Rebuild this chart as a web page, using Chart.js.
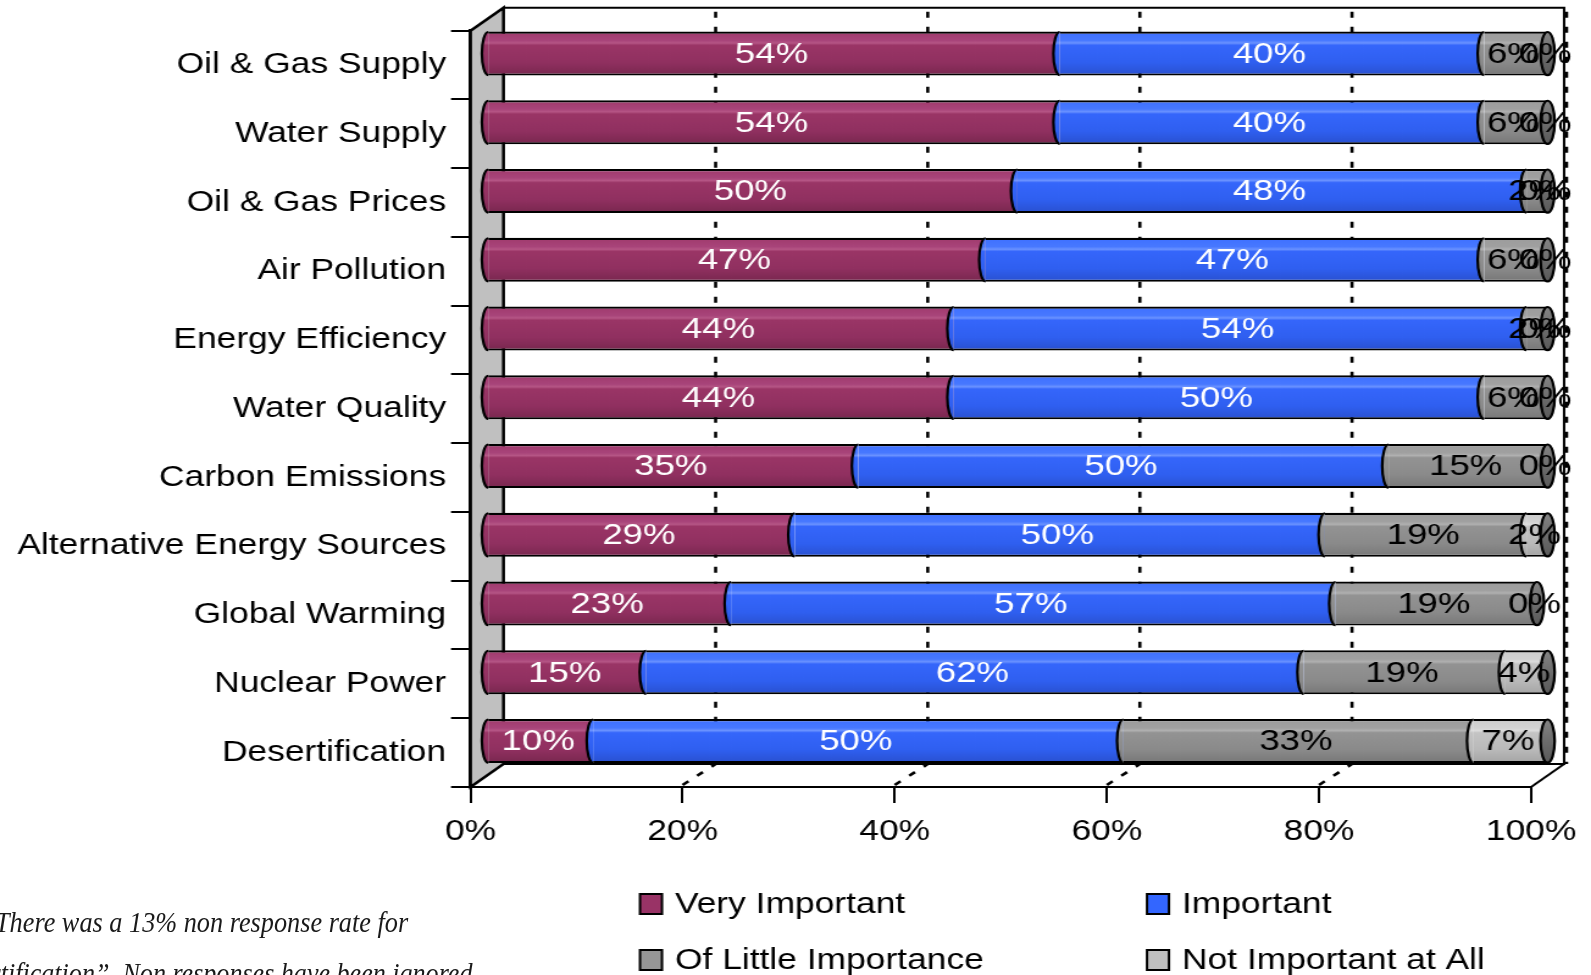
<!DOCTYPE html>
<html>
<head>
<meta charset="utf-8">
<script src="https://cdn.jsdelivr.net/npm/chart.js@4.4.1/dist/chart.umd.min.js"></script>
<style>
  html, body { margin: 0; padding: 0; background: #fff; overflow: hidden; width: 1591px; height: 975px; }
  #wrap { position: relative; width: 1591px; height: 975px; overflow: hidden; }
  #c { position: absolute; left: 0; top: 0; }
  .note { position: absolute; left: 0; font-family: "Liberation Serif", serif; font-style: italic;
          font-size: 29px; line-height: 1; color: #1a1a1a; white-space: nowrap; transform-origin: 0 50%; }
</style>
</head>
<body>
<div id="wrap">
  <canvas id="c" width="1304" height="975" style="width:1591px;height:975px"></canvas>
  <div class="note" id="note1">There was a 13% non response rate for</div>
  <div class="note" id="note2"><span id="note2lead">“Deser</span>tification”. Non responses have been ignored</div>
</div>
<script>
// ---- data ----
const categories = [
  'Oil & Gas Supply', 'Water Supply', 'Oil & Gas Prices', 'Air Pollution',
  'Energy Efficiency', 'Water Quality', 'Carbon Emissions',
  'Alternative Energy Sources', 'Global Warming', 'Nuclear Power', 'Desertification'
];
const veryImportant    = [54, 54, 50, 47, 44, 44, 35, 29, 23, 15, 10];
const important        = [40, 40, 48, 47, 54, 50, 50, 50, 57, 62, 50];
const littleImportance = [ 6,  6,  2,  6,  2,  6, 15, 19, 19, 19, 33];
const notImportant     = [ 0,  0,  0,  0,  0,  0,  0,  2,  0,  4,  7];
const seriesNames = ['Very Important', 'Important', 'Of Little Importance', 'Not Important at All'];
const xTickValues = [0, 20, 40, 60, 80, 100];

// ---- geometry (canvas units; the canvas is stretched horizontally on the page) ----
const CANVAS_W = 1304, CANVAS_H = 975;
const STRETCH = 1591 / CANVAS_W;
const PLOT_LEFT = 470.5 / STRETCH;
const PLOT_RIGHT = 1532 / STRETCH;
const PLOT_TOP = 30.7;
const PLOT_BOTTOM = 787;
const DEPTH_X = 33 / STRETCH;   // offset of the back wall
const DEPTH_Y = -23;
const BAR_DX = DEPTH_X / 2, BAR_DY = DEPTH_Y / 2;
const BAR_PCT = 0.64;
const BAND = (PLOT_BOTTOM - PLOT_TOP) / categories.length;
const BAR_H = BAND * BAR_PCT;
const CAP_RX = 5.2;             // horizontal radius of the cylinder end faces
const FONT = '"Liberation Sans", Arial, sans-serif';

// ---- colours ----
const flatColors = ['#993366', '#3366ff', '#969696', '#c0c0c0'];
const shadeStops = [
  [[0, '#a03a6c'], [0.2, '#a8447a'], [0.26, '#b55585'], [0.31, '#9a3566'], [0.7, '#903060'], [1, '#78274e']],
  [[0, '#3e70ff'], [0.2, '#4778ff'], [0.26, '#6a92ff'], [0.31, '#3566fb'], [0.7, '#2f5ff0'], [1, '#2950cf']],
  [[0, '#9c9c9c'], [0.2, '#a0a0a0'], [0.26, '#b0b0b0'], [0.31, '#939393'], [0.7, '#8a8a8a'], [1, '#777777']],
  [[0, '#cdcdcd'], [0.2, '#d2d2d2'], [0.26, '#dcdcdc'], [0.31, '#c4c4c4'], [0.7, '#b9b9b9'], [1, '#a4a4a4']]
];
const labelColors = ['#ffffff', '#ffffff', '#000000', '#000000'];

function shade(ctx, seriesIdx, cy) {
  const g = ctx.createLinearGradient(0, cy - BAR_H / 2, 0, cy + BAR_H / 2);
  shadeStops[seriesIdx].forEach(([o, col]) => g.addColorStop(o, col));
  return g;
}

function cylinderFill(seriesIdx) {
  return (c) => {
    const flat = flatColors[seriesIdx];
    if (c.type !== 'data') return flat;
    const ys = c.chart.scales.y;
    if (!ys) return flat;
    const cy = ys.getPixelForValue(c.dataIndex);
    if (!isFinite(cy)) return flat;
    return shade(c.chart.ctx, seriesIdx, cy);
  };
}

const seriesValues = [veryImportant, important, littleImportance, notImportant];
const datasets = seriesValues.map((vals, i) => ({
  label: seriesNames[i],
  data: vals,
  backgroundColor: cylinderFill(i),
  borderColor: '#000',
  borderWidth: { left: 0, top: 2.2, bottom: 2.2, right: 0 },
  borderSkipped: false,
  borderRadius: 0,
  barPercentage: BAR_PCT,
  categoryPercentage: 1
}));

// walls, floor and back gridlines, then the bars pushed half-way into the depth
const depthPlugin = {
  id: 'depth',
  beforeDatasetsDraw(chart) {
    const { ctx, chartArea: a, scales: { x, y } } = chart;
    const bTop = a.top + DEPTH_Y, bBot = a.bottom + DEPTH_Y;
    const bx = v => x.getPixelForValue(v) + DEPTH_X;

    ctx.save();
    // back wall outline
    ctx.strokeStyle = '#000';
    ctx.lineWidth = 2;
    ctx.beginPath();
    ctx.moveTo(bx(0), bTop);
    ctx.lineTo(bx(100), bTop);
    ctx.lineTo(bx(100), bBot);
    ctx.lineTo(bx(0), bBot);
    ctx.stroke();

    // dashed gridlines on the back wall and the floor
    ctx.setLineDash([6, 9]);
    ctx.lineWidth = 2.6;
    xTickValues.slice(1).forEach(v => {
      const off = v === 100 ? 2 : 0;
      ctx.beginPath();
      ctx.moveTo(bx(v) + off, bTop + 4);
      ctx.lineTo(bx(v) + off, bBot);
      ctx.stroke();
      if (v < 100) {
        ctx.beginPath();
        ctx.moveTo(x.getPixelForValue(v), a.bottom - 2);
        ctx.lineTo(bx(v), bBot);
        ctx.stroke();
      }
    });
    ctx.setLineDash([]);
    // right edge of the floor
    ctx.lineWidth = 2;
    ctx.beginPath();
    ctx.moveTo(x.getPixelForValue(100), a.bottom);
    ctx.lineTo(bx(100), bBot);
    ctx.stroke();

    // side wall
    ctx.beginPath();
    ctx.moveTo(a.left, a.top);
    ctx.lineTo(a.left + DEPTH_X, bTop);
    ctx.lineTo(a.left + DEPTH_X, bBot);
    ctx.lineTo(a.left, a.bottom);
    ctx.closePath();
    ctx.fillStyle = '#c0c0c0';
    ctx.fill();
    ctx.lineWidth = 2.5;
    ctx.stroke();

    // bar bodies
    ctx.translate(BAR_DX, BAR_DY);
    for (let i = 0; i < chart.data.datasets.length; i++) {
      const meta = chart.getDatasetMeta(i);
      if (meta.visible) meta.controller.draw();
    }

    // end faces: the left face of every segment and the dark face closing each bar
    categories.forEach((_, j) => {
      const cy = y.getPixelForValue(j);
      const ry = BAR_H / 2 - 0.4;
      chart.data.datasets.forEach((ds, i) => {
        if (!ds.data[j]) return;
        const el = chart.getDatasetMeta(i).data[j];
        const p = el.getProps(['base'], true);
        ctx.beginPath();
        ctx.ellipse(p.base, cy, CAP_RX, ry, 0, Math.PI / 2, Math.PI * 1.5);
        ctx.closePath();
        ctx.fillStyle = shade(ctx, i, cy);
        ctx.fill();
        ctx.beginPath();
        ctx.ellipse(p.base, cy, CAP_RX, ry, 0, Math.PI / 2, Math.PI * 1.5);
        ctx.lineWidth = 2.2;
        ctx.strokeStyle = '#000';
        ctx.stroke();
      });

      const total = seriesValues.reduce((s, arr) => s + arr[j], 0);
      const px = x.getPixelForValue(total);
      const g = ctx.createLinearGradient(0, cy - BAR_H / 2, 0, cy + BAR_H / 2);
      g.addColorStop(0, '#858585');
      g.addColorStop(0.5, '#6c6c6c');
      g.addColorStop(1, '#595959');
      ctx.beginPath();
      ctx.ellipse(px, cy, CAP_RX + 0.6, ry, 0, 0, Math.PI * 2);
      ctx.fillStyle = g;
      ctx.fill();
      ctx.lineWidth = 2.2;
      ctx.strokeStyle = '#000';
      ctx.stroke();
    });

    // value labels
    ctx.font = '30px ' + FONT;
    ctx.textAlign = 'center';
    ctx.textBaseline = 'middle';
    chart.data.datasets.forEach((ds, i) => {
      const meta = chart.getDatasetMeta(i);
      meta.data.forEach((el, j) => {
        const p = el.getProps(['x', 'y', 'base'], true);
        ctx.fillStyle = labelColors[i];
        ctx.fillText(ds.data[j] + '%', (p.x + p.base) / 2 - 2, p.y + 1);
      });
    });
    ctx.restore();
    return false;
  }
};

// two-column legend under the plot
const legendPlugin = {
  id: 'gridLegend',
  afterDraw(chart) {
    const { ctx } = chart;
    const cols = [640 / STRETCH, 1147 / STRETCH];
    const rows = [904, 960];
    ctx.save();
    ctx.font = '29px ' + FONT;
    ctx.textBaseline = 'middle';
    ctx.textAlign = 'left';
    chart.data.datasets.forEach((ds, i) => {
      const lx = cols[i % 2], ly = rows[Math.floor(i / 2)];
      ctx.fillStyle = flatColors[i];
      ctx.fillRect(lx, ly - 10, 18, 20);
      ctx.strokeStyle = '#000';
      ctx.lineWidth = 2;
      ctx.strokeRect(lx, ly - 10, 18, 20);
      ctx.fillStyle = '#000';
      ctx.fillText(ds.label, lx + 35 / STRETCH, ly + 1);
    });
    ctx.restore();
  }
};

new Chart(document.getElementById('c'), {
  type: 'bar',
  data: { labels: categories, datasets },
  options: {
    responsive: false,
    devicePixelRatio: 1,
    animation: false,
    events: [],
    indexAxis: 'y',
    layout: { padding: { top: PLOT_TOP, right: CANVAS_W - PLOT_RIGHT, bottom: 0, left: 0 } },
    plugins: { legend: { display: false }, tooltip: { enabled: false } },
    scales: {
      x: {
        stacked: true,
        min: 0,
        max: 100,
        afterBuildTicks: s => { s.ticks = xTickValues.map(v => ({ value: v })); },
        afterFit: s => { s.height = CANVAS_H - PLOT_BOTTOM; },
        ticks: { callback: v => v + '%', color: '#000', font: { family: FONT, size: 29 }, padding: 12, maxRotation: 0, autoSkip: false },
        grid: { drawOnChartArea: false, drawTicks: true, tickLength: 16, color: '#000', lineWidth: 2 },
        border: { display: true, color: '#000', width: 2 }
      },
      y: {
        stacked: true,
        afterFit: s => { s.width = PLOT_LEFT; },
        ticks: { color: '#000', font: { family: FONT, size: 29 }, padding: 4, autoSkip: false },
        grid: { drawOnChartArea: false, drawTicks: true, tickLength: 16, offset: true, color: '#000', lineWidth: 2 },
        border: { display: true, color: '#000', width: 2.5 }
      }
    }
  },
  plugins: [depthPlugin, legendPlugin]
});

// footnote lines, fitted to their measured widths
(function placeNotes() {
  const n1 = document.getElementById('note1');
  const k1 = 413 / n1.offsetWidth;
  n1.style.transform = 'scaleX(' + k1 + ')';
  n1.style.left = '-5px';
  n1.style.top = (923 - 15) + 'px';

  const n2 = document.getElementById('note2');
  const lead = document.getElementById('note2lead').offsetWidth;
  const k2 = 472 / (n2.offsetWidth - lead);
  n2.style.transform = 'scaleX(' + k2 + ')';
  n2.style.left = (-lead * k2) + 'px';
  n2.style.top = (974 - 15) + 'px';
})();
</script>
</body>
</html>
